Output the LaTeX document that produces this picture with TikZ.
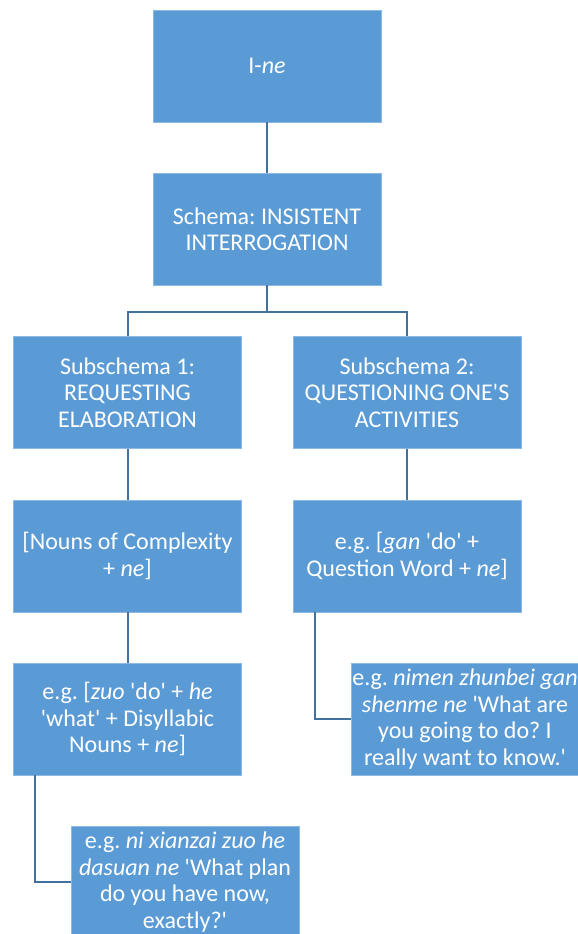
\documentclass[tikz,border=0pt]{standalone}
\usepackage{fontspec}
\setmainfont{Carlito}
\frenchspacing
\newcommand{\sq}{\textquotesingle}
\definecolor{boxblue}{HTML}{5B9BD5}
\definecolor{boxedge}{HTML}{8DBAE3}
\definecolor{linkblue}{HTML}{41719C}
\tikzset{
  box/.style={rectangle, fill=boxblue, draw=boxedge, line width=0.8pt,
    text=white, align=center, inner sep=0pt,
    font=\fontsize{24}{26.5}\selectfont},
  stdbox/.style={box, minimum width=228pt, minimum height=112pt},
  link/.style={draw=linkblue, line width=2pt}
}
\begin{document}
\begin{tikzpicture}[x=1pt, y=-1pt]
  \useasboundingbox (0,0) rectangle (578,934);
  \clip (0,0) rectangle (578,934);

  \node[stdbox] (top)    at (267,66)    {I-\textit{ne}};
  \node[stdbox] (schema) at (267,229)   {Schema: INSISTENT\\INTERROGATION};
  \node[stdbox] (sub1)   at (127.5,392.5) {Subschema 1:\\REQUESTING\\ELABORATION};
  \node[stdbox] (sub2)   at (407,392.5) {Subschema 2:\\QUESTIONING ONE\sq S\\ACTIVITIES};
  \node[stdbox] (n1)     at (127.5,556) {[Nouns of Complexity\\+ \textit{ne}]};
  \node[stdbox] (n2)     at (407,556)   {e.g. [\textit{gan} \sq do\sq\ +\\Question Word + \textit{ne}]};
  \node[stdbox] (e1)     at (127.5,719) {e.g. [\textit{zuo} \sq do\sq\ + \textit{he}\\\sq what\sq\ + Disyllabic\\Nouns + \textit{ne}]};
  \node[stdbox] (ex2)    at (465,719)   {e.g. \textit{nimen zhunbei gan}\\\textit{shenme ne} \sq What are\\you going to do? I\\really want to know.\sq};
  \node[stdbox] (ex1)    at (185,882)   {e.g. \textit{ni xianzai zuo he}\\\textit{dasuan ne} \sq What plan\\do you have now,\\exactly?\sq};

  \draw[link] (top.south) -- (schema.north);
  \draw[link] (schema.south) -- ++(0,27) coordinate (fork) -| (sub1.north);
  \draw[link] (fork) -| (sub2.north);
  \draw[link] (sub1.south) -- (n1.north);
  \draw[link] (sub2.south) -- (n2.north);
  \draw[link] (n1.south) -- (e1.north);
  \draw[link] ([xshift=22pt]n2.south west) |- (ex2.west);
  \draw[link] ([xshift=22pt]e1.south west) |- (ex1.west);
\end{tikzpicture}
\end{document}
